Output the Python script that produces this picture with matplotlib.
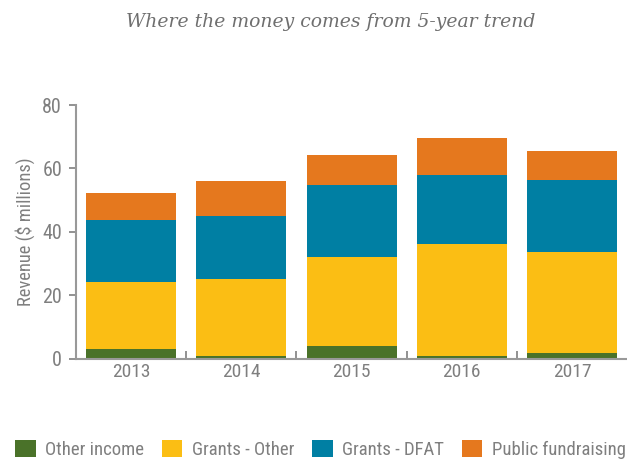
import matplotlib
matplotlib.use('Agg')
import matplotlib.pyplot as plt
import numpy as np

years = ['2013', '2014', '2015', '2016', '2017']
other_income = [3.2, 0.8, 4.0, 0.8, 1.8]
grants_other = [21.0, 24.3, 28.2, 35.4, 31.8]
grants_dfat = [19.5, 19.9, 22.6, 21.7, 22.8]
public_fundraising = [8.5, 11.0, 9.4, 11.7, 9.1]

series = [
    ('Other income', other_income, '#4a7229'),
    ('Grants - Other', grants_other, '#fbbe14'),
    ('Grants - DFAT', grants_dfat, '#007fa3'),
    ('Public fundraising', public_fundraising, '#e5781e'),
]

plt.rcParams['font.family'] = ['Roboto Condensed', 'Roboto', 'DejaVu Sans']
grey = '#7f7f7f'

fig = plt.figure(figsize=(6.27, 4.61), dpi=100)
ax = fig.add_axes([0.1212, 0.2219, 0.879, 0.5503])

x = np.arange(len(years))
bottom = np.zeros(len(years))
for name, vals, col in series:
    ax.bar(x, vals, width=0.816, bottom=bottom, color=col, label=name, linewidth=0)
    bottom += np.array(vals)

ax.set_xlim(-0.5, 4.5)
ax.set_ylim(0, 80)
ax.set_yticks([0, 20, 40, 60, 80])
ax.set_xticks(x)
ax.set_xticklabels(years)
ax.set_xticks(x[:-1] + 0.5, minor=True)
ax.tick_params(axis='x', which='major', length=0, labelsize=14, labelcolor=grey, pad=3)
ax.tick_params(axis='x', which='minor', direction='in', length=6, color=grey, width=1.2)
ax.tick_params(axis='y', length=5, color=grey, width=1.2, labelsize=14.5, labelcolor=grey, pad=5)

for s in ['top', 'right']:
    ax.spines[s].set_visible(False)
for s in ['left', 'bottom']:
    ax.spines[s].set_color('#999999')
    ax.spines[s].set_linewidth(1.5)

ax.set_ylabel('Revenue ($ millions)', fontsize=13.3, color=grey, labelpad=5)

fig.text(0.527, 0.952, 'Where the money comes from 5-year trend',
         ha='center', va='center', fontsize=13.5, color='#6f6f6f',
         style='italic', family='DejaVu Serif')

fig.legend(loc='lower left', bbox_to_anchor=(0.012, -0.012), ncol=4, frameon=False,
           fontsize=13.5, labelcolor=grey, handlelength=1.1, handleheight=1.05,
           handletextpad=0.5, columnspacing=0.95, borderaxespad=0)

fig.savefig('out.png', dpi=100)
